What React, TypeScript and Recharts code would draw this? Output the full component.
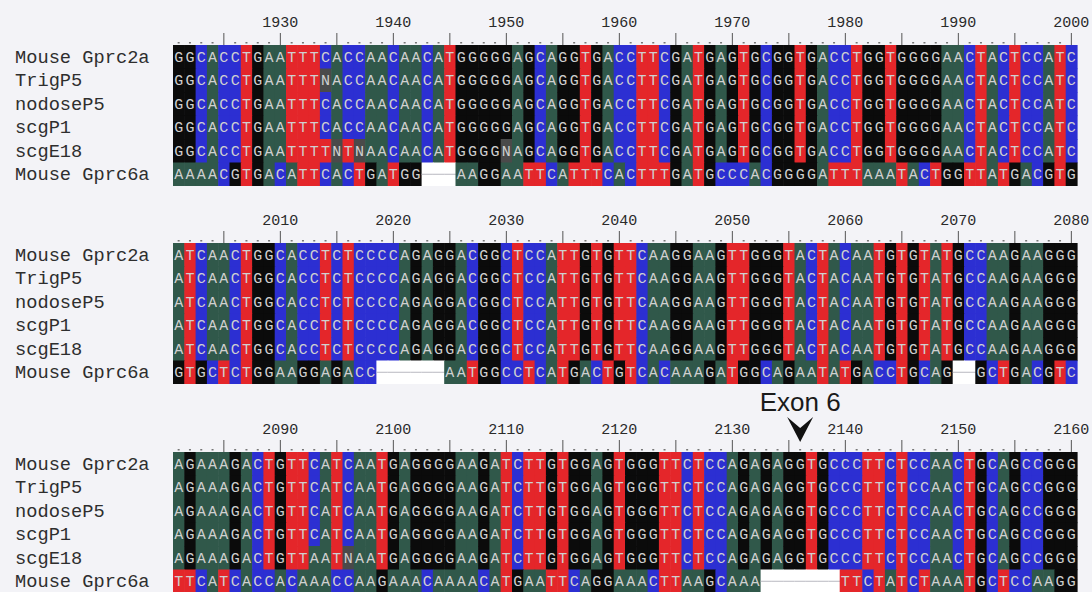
import { ScatterChart, Scatter, XAxis, YAxis, ReferenceLine } from "recharts";

const SEQ_NAMES = ["Mouse Gprc2a", "TrigP5", "nodoseP5", "scgP1", "scgE18", "Mouse Gprc6a"];

const BLOCK1_START = 1921;
const BLOCK1_TICKS = [1930, 1940, 1950, 1960, 1970, 1980, 1990, 2000];
const BLOCK1_SEQS = [
  "GGCACCTGAATTTCACCAACAACATGGGGGAGCAGGTGACCTTCGATGAGTGCGGTGACCTGGTGGGGAACTACTCCATC",
  "GGCACCTGAATTTNACCAACAACATGGGGGAGCAGGTGACCTTCGATGAGTGCGGTGACCTGGTGGGGAACTACTCCATC",
  "GGCACCTGAATTTCACCAACAACATGGGGGAGCAGGTGACCTTCGATGAGTGCGGTGACCTGGTGGGGAACTACTCCATC",
  "GGCACCTGAATTTCACCAACAACATGGGGGAGCAGGTGACCTTCGATGAGTGCGGTGACCTGGTGGGGAACTACTCCATC",
  "GGCACCTGAATTTTNTNAACAACATGGGGNAGCAGGTGACCTTCGATGAGTGCGGTGACCTGGTGGGGAACTACTCCATC",
  "AAAACGTGACATTCACTGATGG---AAGGAATTCATTTCACTTTGATGCCCACGGGGATTTAAATACTGGTTATGACGTG",
];

const BLOCK2_START = 2001;
const BLOCK2_TICKS = [2010, 2020, 2030, 2040, 2050, 2060, 2070, 2080];
const BLOCK2_SEQS = [
  "ATCAACTGGCACCTCTCCCCAGAGGACGGCTCCATTGTGTTCAAGGAAGTTGGGTACTACAATGTGTATGCCAAGAAGGG",
  "ATCAACTGGCACCTCTCCCCAGAGGACGGCTCCATTGTGTTCAAGGAAGTTGGGTACTACAATGTGTATGCCAAGAAGGG",
  "ATCAACTGGCACCTCTCCCCAGAGGACGGCTCCATTGTGTTCAAGGAAGTTGGGTACTACAATGTGTATGCCAAGAAGGG",
  "ATCAACTGGCACCTCTCCCCAGAGGACGGCTCCATTGTGTTCAAGGAAGTTGGGTACTACAATGTGTATGCCAAGAAGGG",
  "ATCAACTGGCACCTCTCCCCAGAGGACGGCTCCATTGTGTTCAAGGAAGTTGGGTACTACAATGTGTATGCCAAGAAGGG",
  "GTGCTCTGGAAGGAGACC------AATGGCCTCATGACTGTCACAAAGATGGCAGAATATGACCTGCAG--GCTGACGTC",
];

const BLOCK3_START = 2081;
const BLOCK3_TICKS = [2090, 2100, 2110, 2120, 2130, 2140, 2150, 2160];
const BLOCK3_SEQS = [
  "AGAAAGACTGTTCATCAATGAGGGGAAGATCTTGTGGAGTGGGTTCTCCAGAGAGGTGCCCTTCTCCAACTGCAGCCGGG",
  "AGAAAGACTGTTCATCAATGAGGGGAAGATCTTGTGGAGTGGGTTCTCCAGAGAGGTGCCCTTCTCCAACTGCAGCCGGG",
  "AGAAAGACTGTTCATCAATGAGGGGAAGATCTTGTGGAGTGGGTTCTCCAGAGAGGTGCCCTTCTCCAACTGCAGCCGGG",
  "AGAAAGACTGTTCATCAATGAGGGGAAGATCTTGTGGAGTGGGTTCTCCAGAGAGGTGCCCTTCTCCAACTGCAGCCGGG",
  "AGAAAGACTGTTAATNAATGAGGGGAAGATCTTGTGGAGTGGGTTCTCCAGAGAGGTGCCCTTCTCCAACTGCAGCCGGG",
  "TTCATCACCACAAACCAAGAAACAAAACATGAATTCAGGAAACTTAAGCAAA-------TTCTATCTAAATGCTCCAAGG",
];

const EXON_POS = 2136;
const EXON_LABEL = "Exon 6";

const BASE_COLORS: Record<string, string> = {
  A: "#30584a",
  C: "#2c2fd2",
  G: "#0b0b0b",
  T: "#e4262a",
  N: "#4a4a4a",
};

const COLS = 80;
const CHART_W = 1092;
const LEFT = 173;
const RIGHT = 15;
const AXIS_H = 45;
const PLOT_H = 141;
const CELL_W = (CHART_W - LEFT - RIGHT) / COLS;
const ROW_H = PLOT_H / SEQ_NAMES.length;
const MONO = "'Liberation Mono', 'DejaVu Sans Mono', monospace";

const BaseCell = (props: any) => {
  const { cx, cy, payload } = props;
  if (cx == null || cy == null) return null;
  const x = cx - CELL_W / 2;
  const y = cy - ROW_H / 2;
  if (payload.base === "-") {
    return (
      <g>
        <rect x={x} y={y} width={CELL_W + 0.6} height={ROW_H + 0.6} fill="#ffffff" />
        <line x1={x} x2={x + CELL_W + 0.6} y1={cy} y2={cy} stroke="#b8b8c0" strokeWidth={1} />
      </g>
    );
  }
  return (
    <g>
      <rect x={x} y={y} width={CELL_W + 0.6} height={ROW_H + 0.6} fill={BASE_COLORS[payload.base]} />
      <text x={cx} y={cy + 5} textAnchor="middle" fontFamily={MONO} fontSize={15} fill="#d0d0d0">
        {payload.base}
      </text>
    </g>
  );
};

const RulerTick = (props: any) => {
  const { x, y, payload, labels } = props;
  const v = payload.value;
  return (
    <g>
      {v % 5 === 0 ? (
        <line x1={x} x2={x} y1={y - 12} y2={y} stroke="#555" strokeWidth={1} />
      ) : (
        <rect x={x - 1} y={y - 3} width={2} height={1.5} fill="#777" />
      )}
      {labels.includes(v) && (
        <text x={x} y={y - 18} textAnchor="middle" fontFamily={MONO} fontSize={15} fill="#2a2a2a">
          {v}
        </text>
      )}
    </g>
  );
};

const NameTick = (props: any) => {
  const { y, payload } = props;
  return (
    <text x={15} y={y + 6} textAnchor="start" fontFamily={MONO} fontSize={18.7} fill="#2e2e2e">
      {SEQ_NAMES[Math.floor(payload.value)]}
    </text>
  );
};

const ExonLabel = (props: any) => {
  const { viewBox } = props;
  if (!viewBox) return null;
  const { x, y } = viewBox;
  return (
    <g>
      <text x={x} y={y - 41} textAnchor="middle" fontFamily="'Liberation Sans', Arial, sans-serif" fontSize={26} fill="#1a1a1a">
        {EXON_LABEL}
      </text>
      <path d={`M ${x - 13} ${y - 35} L ${x} ${y - 24} L ${x + 13} ${y - 35} L ${x} ${y - 10} Z`} fill="#111" />
    </g>
  );
};

type BlockProps = { start: number; ticks: number[]; seqs: string[]; top: number; extraTop: number; exon?: number };

const Block = ({ start, ticks, seqs, top, extraTop, exon }: BlockProps) => {
  const cells = seqs.flatMap((s, r) => s.split("").map((base, i) => ({ pos: start + i, row: r + 0.5, base })));
  const positions = seqs[0].split("").map((_, i) => start + i);
  return (
    <div style={{ position: "absolute", left: 0, top }}>
      <ScatterChart width={CHART_W} height={extraTop + AXIS_H + PLOT_H} margin={{ top: extraTop, right: RIGHT, bottom: 0, left: 0 }}>
        <XAxis
          type="number"
          dataKey="pos"
          orientation="top"
          domain={[start - 0.5, start + COLS - 0.5]}
          ticks={positions}
          interval={0}
          height={AXIS_H}
          tickSize={0}
          tickMargin={0}
          axisLine={false}
          tickLine={false}
          tick={<RulerTick labels={ticks} />}
        />
        <YAxis
          type="number"
          dataKey="row"
          domain={[0, SEQ_NAMES.length]}
          reversed
          ticks={SEQ_NAMES.map((_, i) => i + 0.5)}
          interval={0}
          width={LEFT}
          axisLine={false}
          tickLine={false}
          tick={<NameTick />}
        />
        <Scatter data={cells} isAnimationActive={false} shape={<BaseCell />} />
        {exon != null && <ReferenceLine x={exon} stroke="none" label={<ExonLabel />} />}
      </ScatterChart>
    </div>
  );
};

export default function App() {
  return (
    <div style={{ position: "absolute", left: 0, top: 0, width: 1092, height: 592, background: "#f3f3f7", overflow: "hidden" }}>
      <Block start={BLOCK1_START} ticks={BLOCK1_TICKS} seqs={BLOCK1_SEQS} top={0} extraTop={0} />
      <Block start={BLOCK2_START} ticks={BLOCK2_TICKS} seqs={BLOCK2_SEQS} top={198} extraTop={0} />
      <Block start={BLOCK3_START} ticks={BLOCK3_TICKS} seqs={BLOCK3_SEQS} top={380} extraTop={27} exon={EXON_POS} />
    </div>
  );
}
